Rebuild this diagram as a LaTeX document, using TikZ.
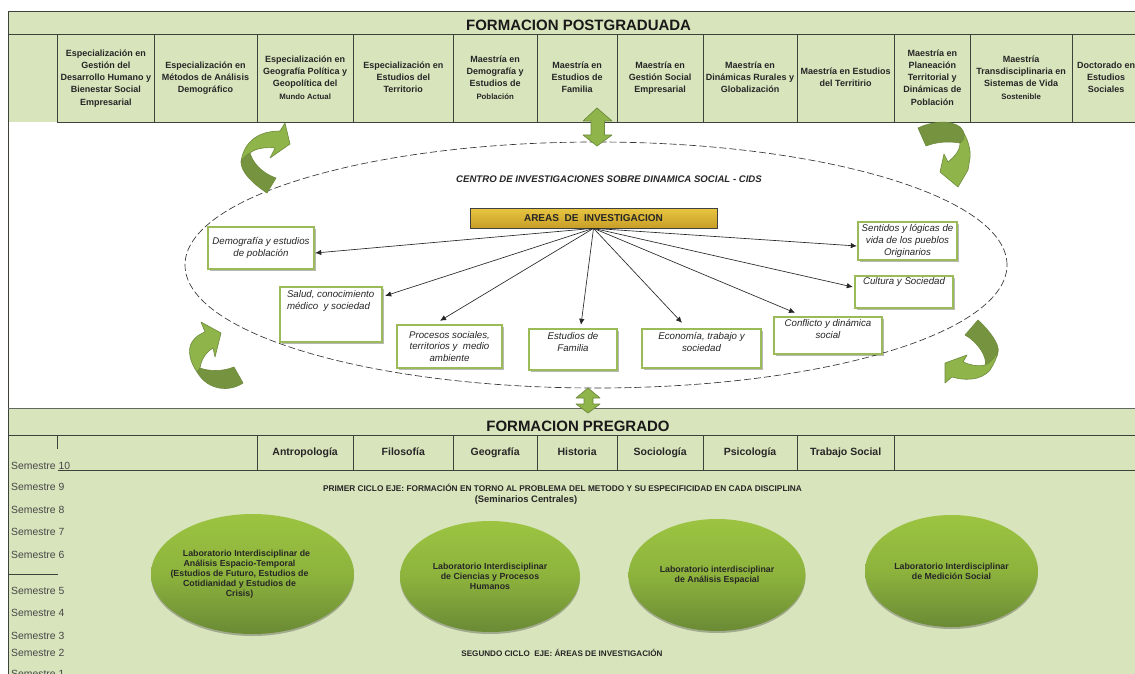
\documentclass[tikz,border=0pt]{standalone}
\usepackage{fontspec}
\setmainfont{Liberation Sans}
\usetikzlibrary{shapes.geometric,shadows,arrows.meta}
\definecolor{panel}{HTML}{D8E4BC}
\definecolor{rulec}{HTML}{3C423A}
\definecolor{boxg}{HTML}{9BBB59}
\definecolor{ink}{HTML}{262626}
\definecolor{arlight}{HTML}{8FB44A}
\definecolor{ardark}{HTML}{76943F}
\definecolor{aredge}{HTML}{6E8B3D}
\definecolor{labtop}{HTML}{9CC441}
\definecolor{labmid}{HTML}{8DB33D}
\definecolor{labbot}{HTML}{6A8A35}
\definecolor{goldtop}{HTML}{E8C640}
\definecolor{goldbot}{HTML}{C79E28}
\newcommand{\fsz}[2]{\fontsize{#1}{#2}\selectfont}
\tikzset{
  cell/.style={draw=rulec,line width=.8pt,fill=panel,inner sep=0pt,align=center,text=ink,font=\fsz{9}{12.3}\bfseries},
  subj/.style={draw=rulec,line width=.8pt,fill=panel,inner sep=0pt,align=center,text=ink,font=\fsz{10.5}{12}\bfseries},
  areabox/.style={draw=boxg,line width=2.4pt,fill=white,inner sep=0pt,text=ink,
    drop shadow={shadow xshift=2pt,shadow yshift=-2pt,fill=black,opacity=.28}},
  lab/.style={ellipse,inner sep=0pt,align=center,text=ink,font=\fsz{8.8}{10}\bfseries,
    top color=labtop,bottom color=labbot,middle color=labmid,
    drop shadow={shadow xshift=0pt,shadow yshift=-2pt,fill=black,opacity=.25}},
  sem/.style={anchor=west,inner sep=0pt,text=ink!85,font=\fsz{10.4}{12}},
  conn/.style={-{Latex[length=6pt,width=5.5pt]},line width=.65pt,color=black!85},
  title/.style={inner sep=0pt,text=black!90,font=\fsz{15}{17}\bfseries},
  lightar/.style={fill=arlight,draw=aredge,line width=.6pt,line join=round},
  darkar/.style={fill=ardark,draw=aredge,line width=.6pt,line join=round},
  small/.style={inner sep=0pt,text=ink,align=center}
}
% name x1 x2 text
\newcommand{\topcell}[4]{%
  \pgfmathsetmacro{\cw}{#3-#2}\pgfmathsetmacro{\cx}{(#3+#2)/2}%
  \node[cell,minimum width=\cw pt,minimum height=87.5pt] (#1) at (\cx,78.2) {\strut #4\strut};}
\newcommand{\subjcell}[4]{%
  \pgfmathsetmacro{\cw}{#3-#2}\pgfmathsetmacro{\cx}{(#3+#2)/2}%
  \node[subj,minimum width=\cw pt,minimum height=35.5pt] (#1) at (\cx,452.8) {\strut #4};}
% name x1 y1 x2 y2 position pad text
\newcommand{\abox}[8]{%
  \pgfmathsetmacro{\bw}{#4-#2}\pgfmathsetmacro{\bh}{#5-#3}%
  \pgfmathsetmacro{\bx}{(#4+#2)/2}\pgfmathsetmacro{\by}{(#5+#3)/2}%
  \node[areabox,minimum width=\bw pt,minimum height=\bh pt] (#1) at (\bx,\by)
    {\parbox[c][\bh pt][#6]{\bw pt}{\fsz{9.7}{11.7}\itshape #8}};}
\newcommand{\ctr}[2]{\vspace*{#1pt}\centering #2\par}
\newcommand{\shiftl}[2]{\hbox{\kern-#1pt #2}}
\begin{document}
\begin{tikzpicture}[x=1pt,y=-1pt]
\useasboundingbox (0,0) rectangle (1135,674);
\fill[white] (0,0) rectangle (1135,674);
% panels
\fill[panel] (8.4,11.5) rectangle (1135,122);
\fill[panel] (8.4,408.5) rectangle (1135,674);
\draw[rulec,line width=.9pt] (1135,11.8) -- (8.4,11.8) -- (8.4,674);
\draw[rulec,line width=.8pt] (8.4,34.5) -- (1135,34.5);
\draw[rulec!80,line width=1pt] (8.4,408.8) -- (1135,408.8);
% postgraduate cells
\topcell{p1}{57.8}{154}{Especialización en\\Gestión del\\Desarrollo Humano y\\Bienestar Social\\Empresarial}
\topcell{p2}{154}{257}{Especialización en\\Métodos de Análisis\\Demográfico}
\topcell{p3}{257}{353.3}{Especialización en\\Geografía Política y\\Geopolítica del\\{\fsz{7.8}{12.3}Mundo Actual}}
\topcell{p4}{353.3}{453.3}{Especialización en\\Estudios del\\Territorio}
\topcell{p5}{453.3}{537}{Maestría en\\Demografía y\\Estudios de\\{\fsz{7.8}{12.3}Población}}
\topcell{p6}{537}{617.3}{Maestría en\\Estudios de\\Familia}
\topcell{p7}{617.3}{703}{Maestría en\\Gestión Social\\Empresarial}
\topcell{p8}{703}{797}{Maestría en\\Dinámicas Rurales y\\Globalización}
\topcell{p9}{797}{894.3}{Maestría en Estudios\\del Territirio}
\topcell{p10}{894.3}{970.3}{Maestría en\\Planeación\\Territorial y\\Dinámicas de\\Población}
\topcell{p11}{970.3}{1072}{Maestría\\Transdisciplinaria en\\Sistemas de Vida\\{\fsz{7.8}{12.3}Sostenible}}
\topcell{p12}{1072}{1140}{Doctorado en\\Estudios\\Sociales}
\node[title] (posgrado) at (578.6,25) {FORMACION POSTGRADUADA};
% centre
\node[ellipse,draw=black!80,dashed,dash pattern=on 7pt off 3pt,line width=.65pt,inner sep=0pt,minimum width=822pt,minimum height=246pt] (cids) at (596,265) {};
\node[small,font=\fsz{9.6}{11}\bfseries\itshape] (cidst) at (609,179) {CENTRO DE INVESTIGACIONES SOBRE DINAMICA SOCIAL - CIDS};
% curved arrows
\draw[darkar] (241,162) .. controls (243,158) and (246,155) .. (250,153) .. controls (252,160) and (259,172) .. (276,178) -- (267,193) .. controls (252,183) and (241,172) .. (241,162) -- cycle;
\draw[lightar] (241,162) .. controls (243,146) and (254,131) .. (280,131) -- (285,123) -- (290,144) -- (270,158) -- (275,148) .. controls (266,147) and (256,148) .. (250,153) .. controls (246,155) and (243,158) .. (241,162) -- cycle;
\draw[lightar] (960,143) .. controls (966,138) and (965,132) .. (960,127) .. controls (968,138) and (971,150) .. (970,158) -- (968,170) -- (958,187) -- (940,172) -- (944,154) -- (948,162) .. controls (954,157) and (960,151) .. (960,143) -- cycle;
\draw[darkar] (918,128) .. controls (930,122) and (950,119) .. (960,127) .. controls (965,132) and (966,138) .. (960,143) .. controls (948,141) and (936,142) .. (926,146) -- cycle;
\draw[lightar] (201,322) -- (221,333) -- (215,357) -- (213,348) .. controls (206,352) and (201,360) .. (200,368) -- (197,372) .. controls (190,362) and (187,350) .. (192,342) .. controls (195,337) and (200,334) .. (205,332) -- cycle;
\draw[darkar] (200,368) .. controls (208,371) and (222,372) .. (234,367) -- (243,383) .. controls (230,392) and (208,391) .. (197,372) -- cycle;
\draw[darkar] (978,320) .. controls (990,331) and (1000,345) .. (998,352) .. controls (997,358) and (995,362) .. (985,366) .. controls (988,358) and (978,342) .. (965,335) -- cycle;
\draw[lightar] (985,365) .. controls (978,367) and (970,365) .. (963,362) -- (967,355) -- (945,363) -- (945,383) -- (952,377) .. controls (962,380) and (980,382) .. (990,370) .. controls (994,364) and (997,358) .. (998,350) .. controls (996,356) and (992,362) .. (985,365) -- cycle;
% double arrows
\draw[lightar,line width=.7pt] (597,108) -- (612,121) -- (604.5,121) -- (604.5,135) -- (612,135) -- (597,146) -- (583,135) -- (591,135) -- (591,121) -- (583,121) -- cycle;
\draw[lightar,line width=.7pt] (588,388) -- (600,398) -- (593,398) -- (593,404) -- (600,404) -- (588,413) -- (576,404) -- (584,404) -- (584,398) -- (576,398) -- cycle;
% areas
\node[draw=black!75,line width=.7pt,inner sep=0pt,minimum width=247pt,minimum height=20pt,top color=goldtop,bottom color=goldbot,font=\fsz{10}{12}\bfseries,text=black!85] (areas) at (593.5,218) {AREAS\ \ DE\ \ INVESTIGACION};
\abox{dem}{208}{227}{314}{269}{c}{0}{\centering Demografía y estudios\\de población\par}
\abox{sal}{280}{287}{382}{342}{t}{0}{\vspace*{3.5pt}\hspace*{7pt}Salud, conocimiento\\\hspace*{7pt}médico\ \ y sociedad\par}
\abox{proc}{397}{325}{502}{368}{c}{0}{\centering Procesos sociales,\\territorios y\ \ medio\\ambiente\par}
\abox{est}{529}{329}{617}{370}{t}{0}{\ctr{3.5}{Estudios de\\Familia}}
\abox{eco}{642}{329}{761}{368}{t}{0}{\ctr{3.5}{Economía, trabajo y\\sociedad}}
\abox{con}{774}{317}{882}{354}{t}{0}{\ctr{2.5}{Conflicto y dinámica\\social}}
\abox{cul}{855}{276}{953}{308}{t}{0}{\ctr{1.5}{Cultura y Sociedad}}
\abox{sen}{858}{222}{957}{260}{c}{0}{\centering Sentidos y lógicas de\\vida de los pueblos\\Originarios\par}
\draw[conn] (areas.south) -- ([yshift=-5pt]dem.east);
\draw[conn] (areas.south) -- ([xshift=2pt,yshift=-10pt]sal.north east);
\draw[conn] (areas.south) -- ([xshift=-9.5pt,yshift=3pt]proc.north);
\draw[conn] (areas.south) -- ([xshift=8pt,yshift=3pt]est.north);
\draw[conn] (areas.south) -- ([xshift=-19.5pt,yshift=5pt]eco.north);
\draw[conn] (areas.south) -- ([xshift=-33pt,yshift=3pt]con.north);
\draw[conn] (areas.south) -- ([xshift=-1pt,yshift=5pt]cul.west);
\draw[conn] (areas.south) -- ([yshift=-5pt]sen.west);
% undergraduate
\node[title] (pregrado) at (578,426) {FORMACION PREGRADO};
\draw[rulec,line width=.8pt] (8.4,435) -- (1135,435);
\draw[rulec,line width=.8pt] (57.8,435) -- (57.8,449);
\draw[rulec,line width=.9pt] (57.8,470.6) -- (1135,470.6);
\draw[rulec,line width=.8pt] (8.4,574) -- (57.8,574);
\subjcell{u1}{257}{353.3}{Antropología}
\subjcell{u2}{353.3}{453.3}{Filosofía}
\subjcell{u3}{453.3}{537}{Geografía}
\subjcell{u4}{537}{617.3}{Historia}
\subjcell{u5}{617.3}{703}{Sociología}
\subjcell{u6}{703}{797}{Psicología}
\subjcell{u7}{797}{894.3}{Trabajo Social}
\begin{scope}
\clip (0,450) rectangle (100,469);
\node[sem] (s10) at (11,466) {Semestre 10};
\end{scope}
\node[sem] (s9) at (11,487) {Semestre 9};
\node[sem] (s8) at (11,510) {Semestre 8};
\node[sem] (s7) at (11,532) {Semestre 7};
\node[sem] (s6) at (11,555) {Semestre 6};
\node[sem] (s5) at (11,591) {Semestre 5};
\node[sem] (s4) at (11,613) {Semestre 4};
\node[sem] (s3) at (11,636) {Semestre 3};
\node[sem] (s2) at (11,652.5) {Semestre 2};
\node[sem] (s1) at (11,674) {Semestre 1};
\node[small,font=\fsz{8.3}{10}\bfseries] (ciclo1) at (562.5,488) {PRIMER CICLO EJE: FORMACIÓN EN TORNO AL PROBLEMA DEL METODO Y SU ESPECIFICIDAD EN CADA DISCIPLINA};
\node[small,font=\fsz{9.4}{10}\bfseries] (semc) at (526,500.5) {(Seminarios Centrales)};
\node[small,font=\fsz{8.1}{10}\bfseries] (ciclo2) at (562,652.5) {SEGUNDO CICLO\ \ EJE: ÁREAS DE INVESTIGACIÓN};
\node[lab,minimum width=203pt,minimum height=120pt] (l1) at (252.5,574) {\shiftl{26}{\raisebox{-3pt}{\parbox{160pt}{\centering \hspace*{14pt}Laboratorio Interdisciplinar de\\Análisis Espacio-Temporal\\(Estudios de Futuro, Estudios de\\Cotidianidad y Estudios de\\Crisis)\par}}}};
\node[lab,minimum width=180pt,minimum height=111pt] (l2) at (490,576.5) {Laboratorio Interdisciplinar\\de Ciencias y Procesos\\Humanos};
\node[lab,minimum width=177pt,minimum height=112pt] (l3) at (717,575) {Laboratorio interdisciplinar\\de Análisis Espacial};
\node[lab,minimum width=173pt,minimum height=112pt] (l4) at (951.5,571) {Laboratorio Interdisciplinar\\de Medición Social};
\end{tikzpicture}
\end{document}
